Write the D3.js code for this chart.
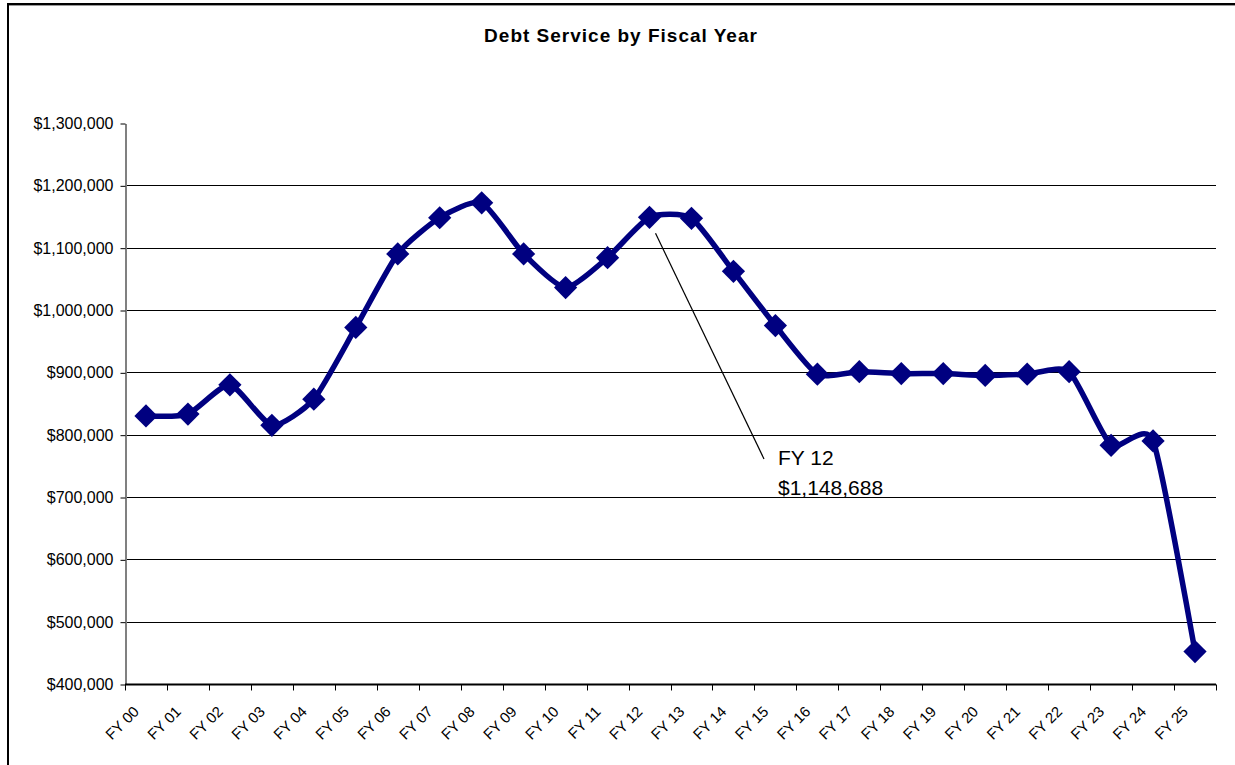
<!DOCTYPE html>
<html>
<head>
<meta charset="utf-8">
<script src="https://cdnjs.cloudflare.com/ajax/libs/d3/7.8.5/d3.min.js"></script>
<style>
  body { margin: 0; background: #fff; }
  svg { display: block; font-family: "Liberation Sans", Arial, sans-serif; }
</style>
</head>
<body>
<svg id="chart" width="1235" height="765"></svg>
<script>
// --- Data ---
const years = ["FY 00", "FY 01", "FY 02", "FY 03", "FY 04", "FY 05", "FY 06", "FY 07", "FY 08",
  "FY 09", "FY 10", "FY 11", "FY 12", "FY 13", "FY 14", "FY 15", "FY 16", "FY 17", "FY 18",
  "FY 19", "FY 20", "FY 21", "FY 22", "FY 23", "FY 24", "FY 25"];
const debtService = [830000, 833000, 880000, 815000, 857000, 972000, 1090000, 1148000, 1172000,
  1090000, 1036000, 1084000, 1148688, 1147000, 1062000, 975000, 897000, 901000, 898000,
  898000, 895000, 897000, 901000, 783000, 790000, 452000];
const yTicks = [400000, 500000, 600000, 700000, 800000, 900000, 1000000, 1100000, 1200000, 1300000];
const callout = { year: "FY 12", value: 1148688 };

// --- Setup ---
const svg = d3.select("#chart");
const plot = { left: 125, right: 1216, top: 123, bottom: 684 };

// outer chart border (runs off the right and bottom edges)
svg.append("rect")
  .attr("x", 8).attr("y", 4)
  .attr("width", 1400).attr("height", 900)
  .attr("fill", "none")
  .attr("stroke", "#000")
  .attr("stroke-width", 2);
svg.append("line")
  .attr("x1", 9).attr("x2", 1235)
  .attr("y1", 5.5).attr("y2", 5.5)
  .attr("stroke", "#999").attr("stroke-width", 1);

// title
svg.append("text")
  .attr("x", 621).attr("y", 42)
  .attr("text-anchor", "middle")
  .style("font-size", "19px")
  .style("letter-spacing", "1px")
  .style("font-weight", "bold")
  .text("Debt Service by Fiscal Year");

// --- Scales ---
const x = d3.scaleBand()
  .domain(years)
  .range([plot.left, plot.right]);

const y = d3.scaleLinear()
  .domain([400000, 1300000])
  .range([plot.bottom, plot.top]);

const fmt = d3.format("$,");

// --- Gridlines ---
svg.append("g")
  .selectAll("line")
  .data(yTicks.filter(t => t > 400000 && t < 1300000))
  .join("line")
  .attr("x1", plot.left).attr("x2", plot.right)
  .attr("y1", d => Math.round(y(d)) + 0.5)
  .attr("y2", d => Math.round(y(d)) + 0.5)
  .attr("stroke", "#000")
  .attr("stroke-width", 1);

// --- Y axis ---
const yAxis = svg.append("g")
  .attr("transform", `translate(${plot.left + 0.5},0.5)`)
  .call(d3.axisLeft(y).tickValues(yTicks).tickFormat(fmt).tickSize(5).tickSizeOuter(0));
yAxis.select(".domain").attr("stroke", "#808080").attr("stroke-width", 2);
yAxis.selectAll(".tick line").attr("stroke", "#000");
yAxis.selectAll(".tick text")
  .attr("x", -12)
  .style("font-size", "16px")
  .style("font-family", "'Liberation Sans', Arial, sans-serif")
  .attr("fill", "#000");

// --- X axis ---
const xAxis = svg.append("g")
  .attr("transform", `translate(0,${plot.bottom + 0.5})`);
xAxis.append("line")
  .attr("x1", plot.left).attr("x2", plot.right)
  .attr("stroke", "#000").attr("stroke-width", 2);
xAxis.selectAll(".boundary")
  .data(years.concat(["__end"]))
  .join("line")
  .attr("class", "boundary")
  .attr("x1", (d, i) => Math.round(plot.left + i * x.bandwidth()) + 0.5)
  .attr("x2", (d, i) => Math.round(plot.left + i * x.bandwidth()) + 0.5)
  .attr("y1", 0).attr("y2", 6)
  .attr("stroke", "#000");
xAxis.selectAll(".label")
  .data(years)
  .join("text")
  .attr("class", "label")
  .attr("text-anchor", "end")
  .attr("transform", d => `translate(${x(d) + x.bandwidth() / 2 - 6},${28}) rotate(-45)`)
  .style("font-size", "15px")
  .text(d => d);

// --- Line ---
const line = d3.line()
  .x((d, i) => x(years[i]) + x.bandwidth() / 2)
  .y(d => y(d))
  .curve(d3.curveCardinal.tension(0.4));

svg.append("path")
  .datum(debtService)
  .attr("d", line)
  .attr("fill", "none")
  .attr("stroke", "#000080")
  .attr("stroke-width", 5.5)
  .attr("stroke-linejoin", "round");

// --- Diamond markers ---
const diamond = d3.symbol().type(d3.symbolSquare).size(270);
svg.append("g")
  .selectAll("path")
  .data(debtService)
  .join("path")
  .attr("d", diamond)
  .attr("transform", (d, i) => `translate(${x(years[i]) + x.bandwidth() / 2},${y(d)}) rotate(45)`)
  .attr("fill", "#000080");

// --- Callout for FY 12 ---
const cx = x(callout.year) + x.bandwidth() / 2;
const cy = y(callout.value);
svg.append("line")
  .attr("x1", cx + 6).attr("y1", cy + 16)
  .attr("x2", 764).attr("y2", 459)
  .attr("stroke", "#000").attr("stroke-width", 1.2);
const note = svg.append("text")
  .attr("x", 778).attr("y", 465)
  .style("font-size", "21px");
note.append("tspan").attr("x", 778).text(callout.year);
note.append("tspan").attr("x", 778).attr("dy", 30).text(fmt(callout.value));
</script>
</body>
</html>
